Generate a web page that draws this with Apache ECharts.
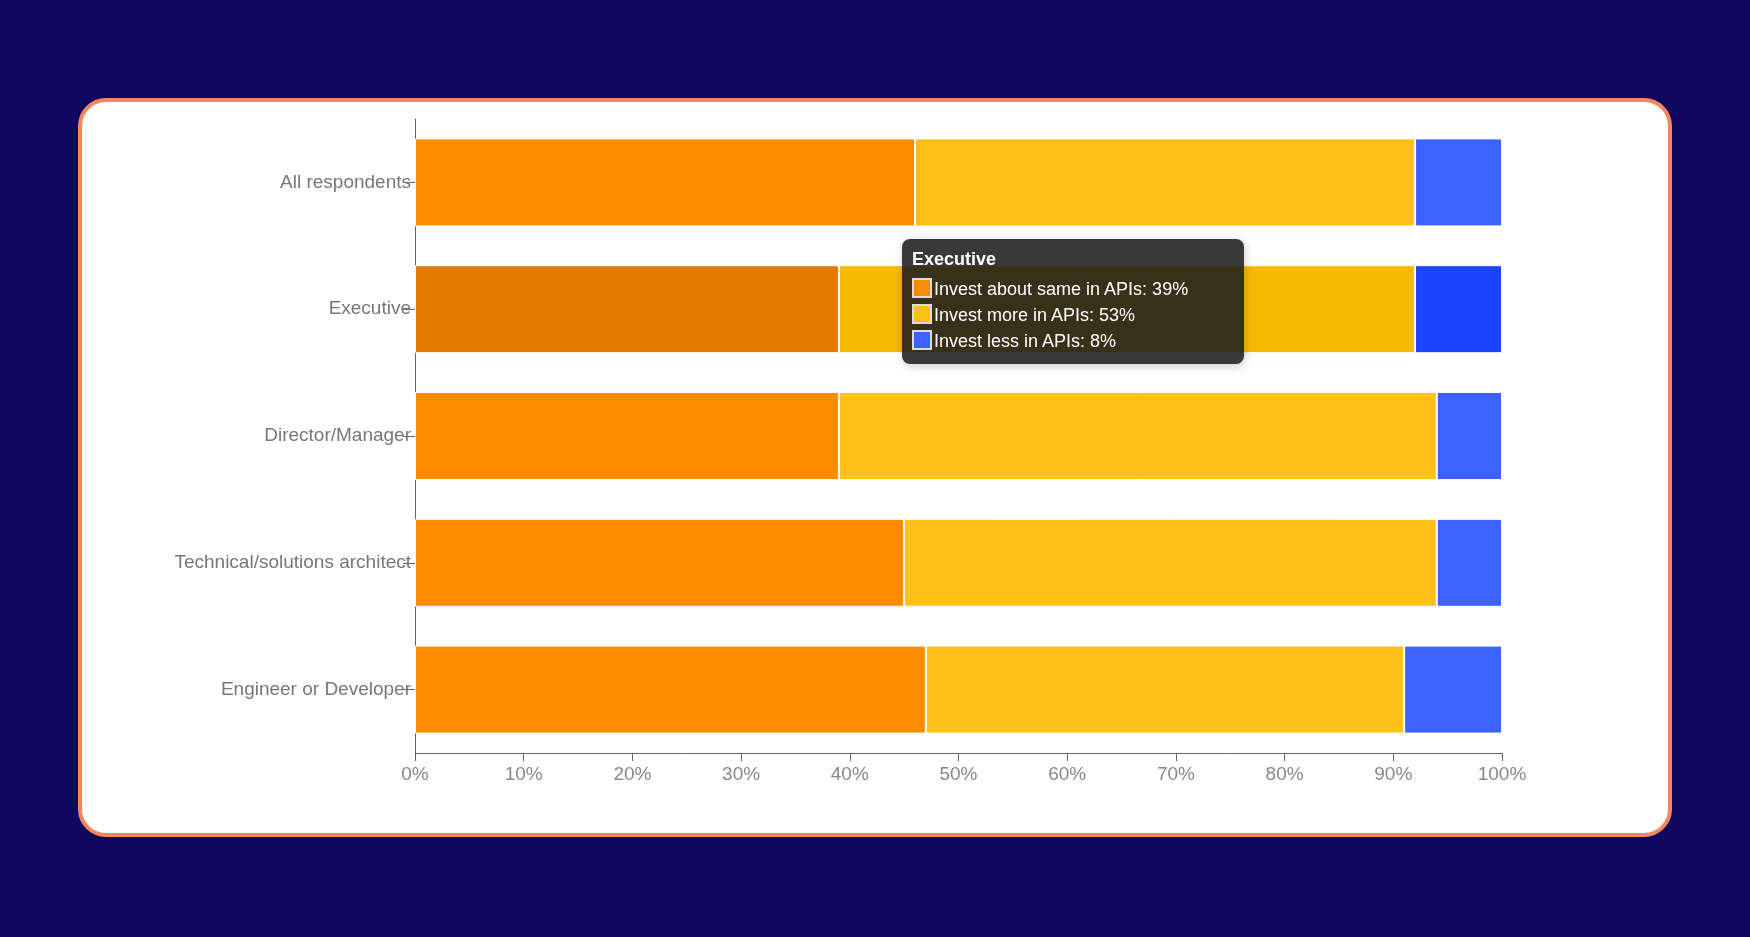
<!DOCTYPE html>
<html>
<head>
<meta charset="utf-8">
<script src="https://cdn.jsdelivr.net/npm/echarts@6/dist/echarts.min.js"></script>
<style>
  html, body { margin: 0; padding: 0; background: #10075e; width: 1750px; height: 937px; overflow: hidden; }
  .card { position: absolute; left: 78px; top: 98px; width: 1586px; height: 731px; background: #fff; border: 4px solid #f4875e; border-radius: 28px; }
  #chart { width: 100%; height: 100%; }
</style>
</head>
<body>
<div class="card"><div id="chart"></div></div>
<script>
const categories = ['All respondents', 'Executive', 'Director/Manager', 'Technical/solutions architect', 'Engineer or Developer']
const seriesNames = ['Invest about same in APIs', 'Invest more in APIs', 'Invest less in APIs']
const aboutSame = [46, 39, 39, 45, 47]
const more = [46, 53, 55, 49, 44]
const less = [8, 8, 6, 6, 9]
const colors = ['#ff8c00', '#ffc118', '#3d63ff']
const hoverColors = ['#e27a00', '#f6b800', '#1a44ff']

const chart = echarts.init(document.getElementById('chart'))
const mk = (name, data, i) => ({
  name, type: 'bar', stack: 'all', data, barWidth: 88,
  itemStyle: { color: colors[i], borderColor: '#fff', borderWidth: 1 },
  emphasis: { itemStyle: { color: hoverColors[i] } }
})
chart.setOption({
  animation: false,
  grid: { left: 333, right: 166, top: 17, bottom: 80 },
  tooltip: {
    trigger: 'axis',
    axisPointer: { type: 'none' },
    backgroundColor: 'rgba(30,30,30,0.88)',
    borderWidth: 0,
    padding: [10, 10],
    extraCssText: 'border-radius:8px;width:322px;',
    position: () => [820, 137],
    formatter: (ps) => {
      let s = '<div style="color:#fff;font-weight:bold;font-size:18px;margin-bottom:6px;font-family:Liberation Sans">' + ps[0].name + '</div>'
      ps.forEach((p, i) => {
        s += '<div style="color:#fff;font-size:18px;line-height:26px;font-family:Liberation Sans"><span style="display:inline-block;width:16px;height:16px;border:2px solid #ddd;background:' + colors[i] + ';vertical-align:-3px;margin-right:2px"></span>' + p.seriesName + ': ' + p.value + '%</div>'
      })
      return s
    }
  },
  xAxis: {
    type: 'value', min: 0, max: 100, interval: 10,
    splitLine: { show: false },
    axisLine: { show: true, lineStyle: { color: '#666' } },
    axisTick: { show: true, length: 8, lineStyle: { color: '#666' } },
    axisLabel: { formatter: '{value}%', color: '#888', fontSize: 19, fontFamily: 'Liberation Sans', margin: 12 }
  },
  yAxis: {
    type: 'category', data: categories, inverse: true,
    axisLine: { show: true, lineStyle: { color: '#666' } },
    axisTick: { show: true, alignWithLabel: true, length: 12, lineStyle: { color: '#666' } },
    axisLabel: { color: '#777', fontSize: 19, fontFamily: 'Liberation Sans', margin: 4 }
  },
  series: [mk(seriesNames[0], aboutSame, 0), mk(seriesNames[1], more, 1), mk(seriesNames[2], less, 2)]
})
chart.dispatchAction({ type: 'highlight', seriesIndex: [0, 1, 2], dataIndex: 1 })
chart.dispatchAction({ type: 'showTip', seriesIndex: 0, dataIndex: 1 })
</script>
</body>
</html>
